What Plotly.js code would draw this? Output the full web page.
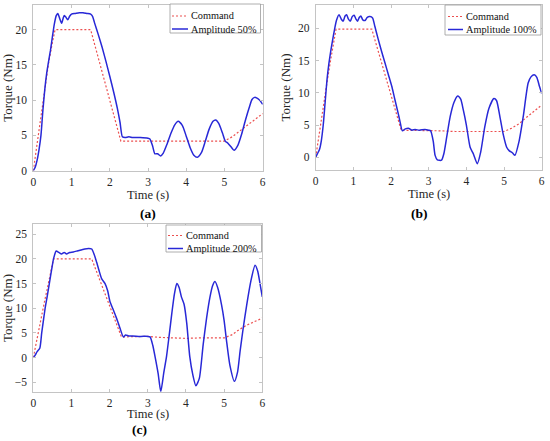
<!DOCTYPE html>
<html>
<head>
<meta charset="utf-8">
<script src="https://cdn.plot.ly/plotly-3.0.1.min.js"></script>
<style>html,body{margin:0;padding:0;background:#fff;}#chart{width:550px;height:441px;}</style>
</head>
<body>
<div id="chart"></div>
<script>
// ---------- Data ----------
const seriesNames = ["Command", "Amplitude 50%", "Amplitude 100%", "Amplitude 200%"];
const panelLabels = ["(a)", "(b)", "(c)"];
const xTickVals = [0, 1, 2, 3, 4, 5, 6];

// Panel (a)
const timeCmdA = [0,0.05,0.1,0.2,0.3,0.4,0.5,0.57,1.0,1.5,2.29,2.6,3.0,3.5,4.0,4.5,5.0,5.2,5.4,5.6,5.8,6.0];
const cmdA     = [0,2,4,8,11.8,15.3,18.2,20,20,20,4.2,4.2,4.2,4.2,4.2,4.2,4.2,4.8,5.6,6.4,7.2,8.1];
const timeA = [0,0.05,0.1,0.15,0.2,0.25,0.3,0.35,0.4,0.45,0.5,0.55,0.6,0.64,0.69,0.74,0.78,0.81,0.85,0.9,0.95,1.0,1.1,1.2,1.3,1.4,1.5,1.55,1.6,1.7,1.8,1.9,2.0,2.1,2.2,2.27,2.33,2.4,2.5,2.6,2.8,3.0,3.05,3.12,3.18,3.25,3.33,3.4,3.5,3.6,3.7,3.79,3.9,4.0,4.1,4.2,4.29,4.4,4.5,4.6,4.7,4.77,4.85,4.95,5.02,5.09,5.17,5.25,5.35,5.45,5.55,5.65,5.72,5.79,5.85,5.9,5.95,6.0];
const torqueA = [0,0.5,1.5,3,5,8.5,11.5,13.8,15.5,17.1,19,20.8,22.0,22.3,21.6,20.9,21.6,22.0,21.8,21.4,21.9,22.2,22.3,22.4,22.4,22.3,22.2,21.9,21.0,19.3,17.5,15.5,13.4,11.2,8.8,6.8,4.8,4.7,4.8,4.7,4.7,4.6,4.5,3.5,2.4,2.4,2.1,2.5,3.8,5.3,6.5,7.0,6.4,4.9,3.3,2.2,1.9,2.6,4.2,5.9,7.0,7.2,6.7,5.3,4.2,3.9,3.4,2.9,3.6,5.2,7.2,9.0,10.1,10.4,10.3,10.1,9.8,9.4];

// Panel (b)
const timeCmdB = [0,0.05,0.1,0.2,0.3,0.4,0.47,0.54,1.0,1.49,2.27,2.6,3.0,3.3,3.7,4.0,4.3,4.6,5.0,5.2,5.4,5.6,5.8,6.0];
const cmdB     = [0,2,4,8,11.6,15.2,17.8,19.85,19.85,19.85,4.2,4.2,4.2,4.1,4.0,4.0,4.1,4.0,4.0,4.5,5.2,6.2,7.2,8.1];
const timeB = [0,0.05,0.1,0.15,0.2,0.25,0.3,0.35,0.4,0.45,0.5,0.55,0.62,0.68,0.73,0.78,0.82,0.87,0.92,0.97,1.02,1.07,1.11,1.16,1.2,1.25,1.31,1.37,1.44,1.51,1.57,1.65,1.75,1.84,1.93,2.02,2.1,2.19,2.24,2.3,2.38,2.46,2.55,2.64,2.75,2.9,3.0,3.05,3.12,3.17,3.23,3.34,3.4,3.48,3.57,3.67,3.77,3.85,3.92,4.0,4.1,4.18,4.29,4.38,4.49,4.6,4.73,4.8,4.89,4.98,5.07,5.14,5.22,5.29,5.4,5.51,5.64,5.72,5.80,5.87,5.94,6.0];
const torqueB = [0,0.6,1.2,2.6,5,8.5,12,14.5,16.5,18.2,19.8,21.2,22.1,21.4,21.1,21.9,22.1,21.4,21.1,21.8,22.0,21.4,21.1,21.7,21.9,21.3,21.2,21.7,21.8,21.6,20.3,18.5,16.4,14.6,12.8,11.0,9.0,6.8,5.5,4.1,4.4,4.5,4.2,4.3,4.2,4.3,4.2,4.1,2.5,0.3,-0.4,-0.45,0.5,3.2,6.3,8.5,9.5,9.0,7.3,5.0,1.55,0.6,-1.0,0.8,4.75,7.6,9.1,8.8,6.3,3.5,1.55,1.0,0.7,0.3,2.5,6.3,11.5,12.5,12.8,12.4,11.0,9.9];

// Panel (c)
const timeCmdC = [0,0.05,0.1,0.2,0.3,0.4,0.47,0.53,1.0,1.53,2.31,2.6,3.0,3.3,3.7,4.0,4.4,4.8,5.0,5.2,5.4,5.6,5.8,6.0];
const cmdC     = [0,2,4,8,11.6,15.2,17.8,20,20,20,4.2,4.3,4.3,4.1,3.9,3.9,4.0,3.9,4.0,4.6,5.7,6.6,7.3,8.0];
const timeC = [0,0.05,0.1,0.17,0.22,0.27,0.31,0.36,0.42,0.48,0.53,0.6,0.67,0.74,0.81,0.87,0.95,1.05,1.15,1.25,1.35,1.45,1.53,1.6,1.66,1.72,1.79,1.88,1.95,2.01,2.1,2.18,2.27,2.36,2.42,2.5,2.6,2.8,3.0,3.06,3.13,3.19,3.27,3.34,3.42,3.49,3.56,3.63,3.7,3.76,3.82,3.88,3.95,4.02,4.1,4.18,4.26,4.35,4.45,4.54,4.63,4.7,4.76,4.83,4.93,5.0,5.06,5.15,5.27,5.35,5.42,5.5,5.59,5.7,5.81,5.88,5.94,6.0];
const torqueC = [0,0.5,1.2,1.9,5,7.8,10,12.2,15,17.8,20,21.6,21.3,21.0,21.3,21.0,21.3,21.4,21.6,21.8,22.0,22.1,22.0,20.8,19.3,17.7,16,15,13.5,11.3,9.6,8,6,4.2,4.6,4.4,4.4,4.3,4.3,4.2,2.5,0.2,-3.2,-6.9,-3,0.2,4.5,9.0,13,15.0,14.2,12.3,10.8,7,0.2,-3.5,-5.7,-4.2,2.6,8,12.3,14.6,15.4,14.2,10.8,7.5,3.6,-1.5,-4.8,-3,1.4,6,10.6,15.5,18.7,17.5,15,12.3];

// ---------- Styles ----------
const FONT = 'Liberation Serif, Times New Roman, Times, serif';
const TEXT = '#262626';
const BOX = '#c4c4c4';
const RED = 'rgb(236,80,80)';
const BLUE = 'rgb(40,40,215)';
const RED_DASH = '2px,2px';
const W = 550, H = 441;
const px = v => v / W;
const py = v => 1 - v / H;

function cmdTrace(x, y, xa, ya) {
  return {x: x, y: y, xaxis: xa, yaxis: ya, type: 'scatter', mode: 'lines',
    name: seriesNames[0], line: {color: RED, width: 1.2, dash: RED_DASH}};
}
function ampTrace(x, y, xa, ya, name) {
  return {x: x, y: y, xaxis: xa, yaxis: ya, type: 'scatter', mode: 'lines',
    name: name, line: {color: BLUE, width: 1.5, shape: 'spline', smoothing: 0.6}};
}

const traces = [
  cmdTrace(timeCmdA, cmdA, 'x', 'y'),
  ampTrace(timeA, torqueA, 'x', 'y', seriesNames[1]),
  cmdTrace(timeCmdB, cmdB, 'x2', 'y2'),
  ampTrace(timeB, torqueB, 'x2', 'y2', seriesNames[2]),
  cmdTrace(timeCmdC, cmdC, 'x3', 'y3'),
  ampTrace(timeC, torqueC, 'x3', 'y3', seriesNames[3])
];

function xAxis(domain, anchor) {
  return {domain: domain, anchor: anchor, range: [0, 6], tickvals: xTickVals,
    ticks: 'inside', ticklen: 3, tickcolor: BOX, showline: true, linecolor: BOX, linewidth: 1,
    mirror: 'ticks', showgrid: false, zeroline: false,
    tickfont: {family: FONT, size: 11.5, color: TEXT}};
}
function yAxis(domain, anchor, range, tickvals) {
  return {domain: domain, anchor: anchor, range: range, tickvals: tickvals,
    ticks: 'inside', ticklen: 3, tickcolor: BOX, showline: true, linecolor: BOX, linewidth: 1,
    mirror: 'ticks', showgrid: false, zeroline: false,
    tickfont: {family: FONT, size: 11.5, color: TEXT}, ticklabelstandoff: 3,
    title: {text: 'Torque (Nm)', font: {family: FONT, size: 13, color: TEXT}, standoff: 4}};
}

// Manual compact legends (MATLAB style)
const shapes = [];
const annotations = [];
function addLegend(box, rowY, lineX0, lineX1, textX, ampName) {
  shapes.push({type: 'rect', xref: 'paper', yref: 'paper', x0: px(box[0]), x1: px(box[1]),
    y0: py(box[3]), y1: py(box[2]), line: {color: '#9a9a9a', width: 0.8}, fillcolor: '#fff', layer: 'above'});
  shapes.push({type: 'line', xref: 'paper', yref: 'paper', x0: px(lineX0), x1: px(lineX1),
    y0: py(rowY[0]), y1: py(rowY[0]), line: {color: RED, width: 1.2, dash: RED_DASH}, layer: 'above'});
  shapes.push({type: 'line', xref: 'paper', yref: 'paper', x0: px(lineX0), x1: px(lineX1),
    y0: py(rowY[1]), y1: py(rowY[1]), line: {color: BLUE, width: 1.5}, layer: 'above'});
  [seriesNames[0], ampName].forEach((t, i) => annotations.push({text: t, xref: 'paper', yref: 'paper',
    x: px(textX), y: py(rowY[i]), xanchor: 'left', yanchor: 'middle', showarrow: false,
    font: {family: FONT, size: 10.3, color: '#111'}}));
}
addLegend([170, 260.5, 4, 33], [16, 29], 172, 188, 189, seriesNames[1]);
addLegend([445, 541, 5, 35], [16.5, 29.5], 448, 463, 464, seriesNames[2]);
addLegend([166, 261.5, 225, 252], [235.5, 248.5], 168, 183, 184, seriesNames[3]);

// x-axis titles and panel labels
[[148, 194.5], [429, 194], [148, 413.5]].forEach(p => annotations.push({text: 'Time (s)', xref: 'paper', yref: 'paper',
  x: px(p[0]), y: py(p[1]), xanchor: 'center', yanchor: 'middle', showarrow: false,
  font: {family: FONT, size: 12.5, color: TEXT}}));
[[148, 213.5], [419, 213], [139, 429]].forEach((p, i) => annotations.push({text: '<b>' + panelLabels[i] + '</b>',
  xref: 'paper', yref: 'paper', x: px(p[0]), y: py(p[1]), xanchor: 'center', yanchor: 'middle', showarrow: false,
  font: {family: FONT, size: 13.5, color: '#000'}}));

const layout = {
  width: W, height: H,
  margin: {l: 0, r: 0, t: 0, b: 0},
  paper_bgcolor: '#fff', plot_bgcolor: '#fff',
  showlegend: false,
  xaxis: xAxis([px(33.3), px(262.7)], 'y'),
  yaxis: yAxis([py(170.7), py(5)], 'x', [0, 23.5], [0,5,10,15,20]),
  xaxis2: xAxis([px(315.7), px(541.7)], 'y2'),
  yaxis2: yAxis([py(170), py(5)], 'x2', [-1.97, 23.6], [0,5,10,15,20]),
  xaxis3: xAxis([px(33.3), px(262.3)], 'y3'),
  yaxis3: yAxis([py(391.7), py(224.3)], 'x3', [-6.9, 27], [-5,0,5,10,15,20,25]),
  shapes: shapes,
  annotations: annotations
};

Plotly.newPlot('chart', traces, layout, {displayModeBar: false, staticPlot: true});
</script>
</body>
</html>
